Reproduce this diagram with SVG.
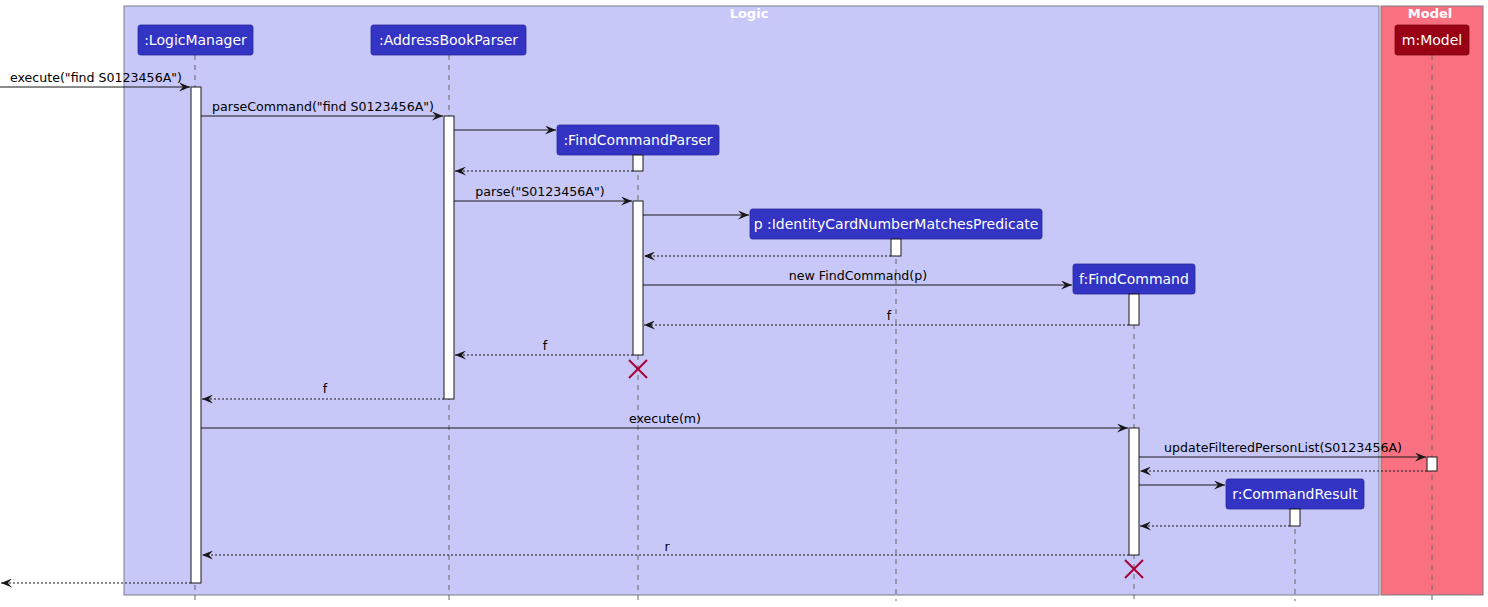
<svg xmlns="http://www.w3.org/2000/svg" width="1488" height="607" viewBox="0 0 1488 607">
<style>
.box{stroke:#7a7a88;stroke-width:1}
.title{font-family:"DejaVu Sans",sans-serif;font-size:13px;font-weight:bold;fill:#ffffff;text-anchor:middle}
.part rect{fill:#3333C4;stroke:#2a2a9a;stroke-width:0.8}
.part text{font-family:"DejaVu Sans",sans-serif;font-size:14px;fill:#ffffff;text-anchor:middle}
.life{stroke:#666;stroke-width:1;stroke-dasharray:5,5}
.act{fill:#ffffff;stroke:#181818;stroke-width:1}
.msg{stroke:#181818;stroke-width:1;fill:none}
.ret{stroke:#181818;stroke-width:1;fill:none;stroke-dasharray:2,2}
.lbl{font-family:"DejaVu Sans",sans-serif;font-size:12.6px;fill:#000000;text-anchor:middle}
.x{stroke:#A80036;stroke-width:2}
</style>
<defs>
<marker id="ah" viewBox="0 0 11 9" refX="11" refY="4.5" markerWidth="11" markerHeight="9" markerUnits="userSpaceOnUse" orient="auto">
<polygon points="0,0 11,4.5 0,9 4,4.5" fill="#181818"/>
</marker>
</defs>
<g id="boxes">
<rect class="box" x="124" y="6" width="1255" height="589" fill="#C8C8F8"/>
<text class="title" x="749" y="18">Logic</text>
<rect class="box" x="1381" y="6" width="102" height="589" fill="#F97181"/>
<text class="title" x="1430" y="18">Model</text>
</g>
<g id="lifelines">
<line class="life" x1="195" y1="55" x2="195" y2="601"/>
<line class="life" x1="449" y1="55" x2="449" y2="601"/>
<line class="life" x1="1432" y1="55" x2="1432" y2="601"/>
<line class="life" x1="638" y1="155" x2="638" y2="601"/>
<line class="life" x1="896" y1="239" x2="896" y2="601"/>
<line class="life" x1="1134" y1="294" x2="1134" y2="601"/>
<line class="life" x1="1295" y1="509" x2="1295" y2="601"/>
</g>
<g id="p_logicmanager" class="part"><rect x="138" y="25" width="115" height="30" rx="2.5"/><text x="195.5" y="45">:LogicManager</text></g>
<g id="p_addressbookparser" class="part"><rect x="371" y="25" width="155" height="30" rx="2.5"/><text x="448.5" y="45">:AddressBookParser</text></g>
<g id="p_model" class="part"><rect x="1395" y="25" width="74" height="30" rx="2.5" style="fill:#9A0013;stroke:#7a0010"/><text x="1432" y="45">m:Model</text></g>
<g id="p_findcommandparser" class="part"><rect x="557" y="125" width="162" height="30" rx="2.5"/><text x="638" y="145">:FindCommandParser</text></g>
<g id="p_predicate" class="part"><rect x="750" y="209" width="292" height="30" rx="2.5"/><text x="896" y="229">p :IdentityCardNumberMatchesPredicate</text></g>
<g id="p_findcommand" class="part"><rect x="1073" y="264" width="122" height="30" rx="2.5"/><text x="1134" y="284">f:FindCommand</text></g>
<g id="p_commandresult" class="part"><rect x="1226" y="479" width="138" height="30" rx="2.5"/><text x="1295" y="499">r:CommandResult</text></g>
<g id="activations">
<rect class="act" x="191" y="87" width="10" height="496"/>
<rect class="act" x="444" y="116" width="10" height="283"/>
<rect class="act" x="633" y="155" width="10" height="16"/>
<rect class="act" x="633" y="201" width="10" height="154"/>
<rect class="act" x="891" y="239" width="10" height="17"/>
<rect class="act" x="1129" y="294" width="10" height="31"/>
<rect class="act" x="1129" y="428" width="10" height="127"/>
<rect class="act" x="1427" y="457" width="10" height="14"/>
<rect class="act" x="1290" y="509" width="10" height="17"/>
</g>
<g id="connectors">
<line class="msg" x1="0" y1="87" x2="190" y2="87" marker-end="url(#ah)"/>
<text class="lbl" x="96" y="82">execute("find S0123456A")</text>
<line class="msg" x1="201" y1="116" x2="443" y2="116" marker-end="url(#ah)"/>
<text class="lbl" x="323" y="111">parseCommand("find S0123456A")</text>
<line class="msg" x1="454" y1="130" x2="556" y2="130" marker-end="url(#ah)"/>
<line class="ret" x1="633" y1="171" x2="455" y2="171" marker-end="url(#ah)"/>
<line class="msg" x1="454" y1="201" x2="632" y2="201" marker-end="url(#ah)"/>
<text class="lbl" x="540" y="196">parse("S0123456A")</text>
<line class="msg" x1="643" y1="215" x2="749" y2="215" marker-end="url(#ah)"/>
<line class="ret" x1="891" y1="256" x2="644" y2="256" marker-end="url(#ah)"/>
<line class="msg" x1="643" y1="285" x2="1072" y2="285" marker-end="url(#ah)"/>
<text class="lbl" x="858" y="280">new FindCommand(p)</text>
<line class="ret" x1="1129" y1="325" x2="644" y2="325" marker-end="url(#ah)"/>
<text class="lbl" x="889" y="320">f</text>
<line class="ret" x1="633" y1="355" x2="455" y2="355" marker-end="url(#ah)"/>
<text class="lbl" x="545" y="350">f</text>
<line class="x" x1="629" y1="360" x2="647" y2="378"/>
<line class="x" x1="647" y1="360" x2="629" y2="378"/>
<line class="ret" x1="444" y1="399" x2="202" y2="399" marker-end="url(#ah)"/>
<text class="lbl" x="325" y="393">f</text>
<line class="msg" x1="201" y1="428" x2="1128" y2="428" marker-end="url(#ah)"/>
<text class="lbl" x="665" y="423">execute(m)</text>
<line class="msg" x1="1139" y1="457" x2="1426" y2="457" marker-end="url(#ah)"/>
<text class="lbl" x="1283" y="452">updateFilteredPersonList(S0123456A)</text>
<line class="ret" x1="1427" y1="471" x2="1140" y2="471" marker-end="url(#ah)"/>
<line class="msg" x1="1139" y1="485" x2="1225" y2="485" marker-end="url(#ah)"/>
<line class="ret" x1="1290" y1="526" x2="1140" y2="526" marker-end="url(#ah)"/>
<line class="ret" x1="1129" y1="555" x2="202" y2="555" marker-end="url(#ah)"/>
<text class="lbl" x="667" y="551">r</text>
<line class="x" x1="1125" y1="560" x2="1143" y2="578"/>
<line class="x" x1="1143" y1="560" x2="1125" y2="578"/>
<line class="ret" x1="191" y1="583" x2="1" y2="583" marker-end="url(#ah)"/>
</g>
</svg>
